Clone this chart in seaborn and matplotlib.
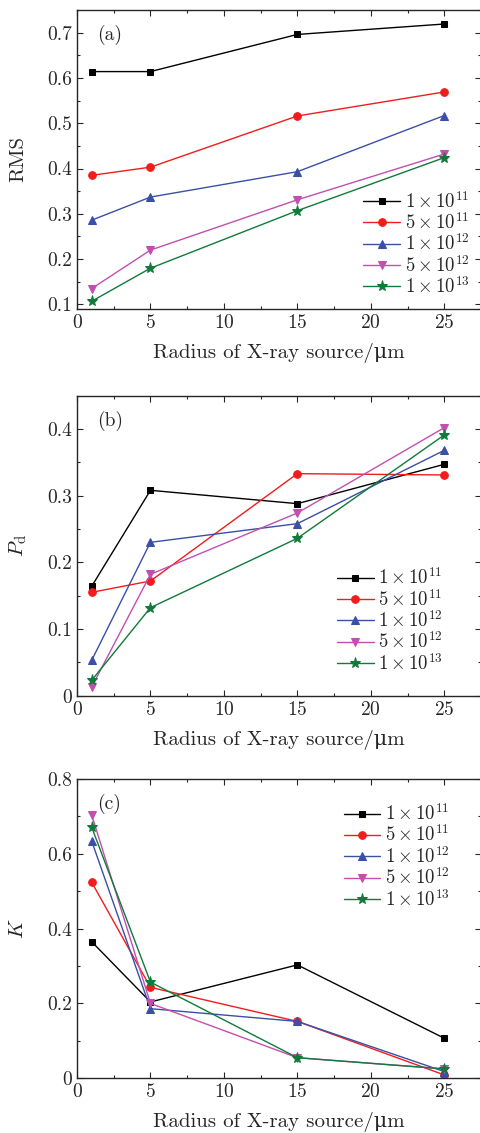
import numpy as np
import pandas as pd
import matplotlib
matplotlib.use("Agg")
import matplotlib.pyplot as plt
from matplotlib.ticker import MultipleLocator
import seaborn as sns

radius = [1, 5, 15, 25]
series = ["$1\\times10^{11}$", "$5\\times10^{11}$", "$1\\times10^{12}$",
          "$5\\times10^{12}$", "$1\\times10^{13}$"]

rms = [
    [0.614, 0.614, 0.696, 0.719],
    [0.385, 0.403, 0.516, 0.569],
    [0.286, 0.337, 0.393, 0.517],
    [0.135, 0.220, 0.331, 0.432],
    [0.107, 0.180, 0.307, 0.424],
]
pd_vals = [
    [0.164, 0.308, 0.288, 0.347],
    [0.155, 0.172, 0.333, 0.331],
    [0.053, 0.230, 0.258, 0.368],
    [0.013, 0.182, 0.274, 0.402],
    [0.023, 0.132, 0.236, 0.391],
]
k_vals = [
    [0.365, 0.204, 0.303, 0.107],
    [0.524, 0.243, 0.152, 0.009],
    [0.634, 0.186, 0.152, 0.018],
    [0.704, 0.200, 0.055, 0.025],
    [0.671, 0.257, 0.055, 0.025],
]

colors = ["#000000", "#f21c1c", "#3a4fa6", "#c24fb0", "#107a3a"]
markers = ["s", "o", "^", "v", "*"]
msizes = [4.5, 5.5, 6, 6, 8]

sns.set_style("ticks")
plt.rcParams["font.family"] = ["cmr10", "DejaVu Serif"]
plt.rcParams["mathtext.fontset"] = "cm"
plt.rcParams["axes.formatter.use_mathtext"] = True
plt.rcParams["font.size"] = 14


def long_df(vals):
    rows = []
    for name, ys in zip(series, vals):
        for x, y in zip(radius, ys):
            rows.append({"r": x, "v": y, "s": name})
    return pd.DataFrame(rows)


fig = plt.figure(figsize=(4.8, 11.33), dpi=100)
panels = [
    (rms, [0.1604, 0.7273, 0.8417, 0.2639], (0.09, 0.75), 0.1, 0.05, "RMS", "(a)", (0.676, 0.440)),
    (pd_vals, [0.1604, 0.3860, 0.8417, 0.2648], (0.0, 0.45), 0.1, 0.05, "$P_\\mathrm{d}$", "(b)", (0.611, 0.472)),
    (k_vals, [0.1604, 0.0483, 0.8417, 0.2642], (0.0, 0.8), 0.2, 0.1, "$K$", "(c)", (0.628, 0.963)),
]

for vals, pos, ylim, ymaj, ymin, ylab, tag, anchor in panels:
    ax = fig.add_axes(pos)
    df = long_df(vals)
    for i, name in enumerate(series):
        sub = df[df["s"] == name]
        sns.lineplot(data=sub, x="r", y="v", ax=ax, color=colors[i],
                     marker=markers[i], markersize=msizes[i],
                     markeredgecolor=colors[i], linewidth=1.0, label=name)
    ax.set_xlim(0, 27.5)
    ax.set_ylim(*ylim)
    ax.xaxis.set_major_locator(MultipleLocator(5))
    ax.xaxis.set_minor_locator(MultipleLocator(2.5))
    ax.yaxis.set_major_locator(MultipleLocator(ymaj))
    ax.yaxis.set_minor_locator(MultipleLocator(ymin))
    ax.yaxis.set_major_formatter(plt.FuncFormatter(lambda v, p: "0" if abs(v) < 1e-9 else f"{v:g}"))
    ax.tick_params(which="both", direction="in", top=True, right=True, labelsize=14)
    ax.tick_params(which="major", length=4, width=0.8)
    ax.tick_params(which="minor", length=2.5, width=0.8)
    for sp in ax.spines.values():
        sp.set_linewidth(1.0)
    ax.set_xlabel("Radius of X-ray source/μm", fontsize=15)
    ax.set_ylabel(ylab, fontsize=15)
    ax.xaxis.set_label_coords(0.5, -0.147)
    ax.xaxis.label.set_va("center")
    ax.yaxis.set_label_coords(-0.146, 0.5)
    ax.yaxis.label.set_va("center")
    ax.text(0.05, 0.915, tag, transform=ax.transAxes, fontsize=14, va="center")
    ax.legend(loc="upper left", bbox_to_anchor=anchor, frameon=False, fontsize=13.5,
              handlelength=1.95, handletextpad=0.26, labelspacing=0.02, borderpad=0.2)

fig.savefig("out.png", dpi=100)
